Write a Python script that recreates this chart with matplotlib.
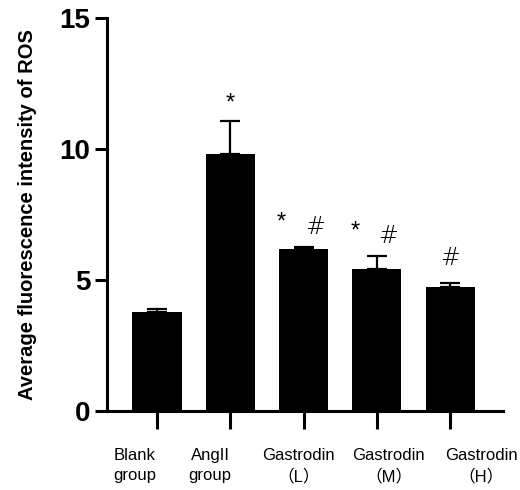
import numpy as np
import matplotlib.pyplot as plt

# valeurs
groups = ["Blank\ngroup", "AngII\ngroup", "Gastrodin\n（L）", "Gastrodin\n（M）", "Gastrodin\n（H）"]
means = [3.78, 9.81, 6.18, 5.42, 4.73]
errors = [0.12, 1.27, 0.08, 0.50, 0.16]
star = [False, True, True, True, False]
hash_mark = [False, False, True, True, True]

plt.rcParams['font.family'] = ['Liberation Sans', 'Noto Sans CJK SC', 'DejaVu Sans']

fig = plt.figure(figsize=(5.2, 4.9), dpi=100)
ax = fig.add_axes([0.206, 0.161, 0.761, 0.802])

x = np.arange(len(groups))
ax.bar(x, means, width=0.67, color="black", zorder=2)
ax.errorbar(x, means, yerr=[np.zeros(len(means)), errors], fmt="none",
            ecolor="black", elinewidth=1.6, capsize=7, capthick=1.6, zorder=1)

# marques de significativité
for i in range(len(groups)):
    top = means[i] + errors[i]
    if star[i] and hash_mark[i]:
        ax.text(i - 0.30, top + 0.95, "*", ha="center", va="center", fontsize=17)
        ax.text(i + 0.16, top + 0.75, "#", ha="center", va="center", fontsize=17,
                family=['DejaVu Sans'], fontweight="light")
    elif star[i]:
        ax.text(i, top + 0.65, "*", ha="center", va="center", fontsize=17)
    elif hash_mark[i]:
        ax.text(i, top + 0.95, "#", ha="center", va="center", fontsize=17,
                family=['DejaVu Sans'], fontweight="light")

ax.set_xlim(-0.68, 4.72)
ax.set_ylim(0, 15)
ax.set_yticks([0, 5, 10, 15])
ax.set_yticklabels(["0", "5", "10", "15"], fontsize=20, fontweight="bold")
ax.set_xticks(x)
ax.set_xticklabels([])

# étiquettes décalées comme sur l'original
shifts = [-22, -20, -5, 12, 31]
for i, (g, s) in enumerate(zip(groups, shifts)):
    ax.annotate(g, xy=(i, 0), xycoords=("data", "axes fraction"),
                xytext=(s, -37), textcoords="offset pixels",
                ha="center", va="top", fontsize=12, linespacing=1.4)

for side in ["top", "right"]:
    ax.spines[side].set_visible(False)
for side in ["left", "bottom"]:
    ax.spines[side].set_linewidth(2.2)
ax.tick_params(axis="y", length=9, width=2.2, pad=3)
ax.tick_params(axis="x", length=13, width=2.2)

ax.set_ylabel("Average fluorescence intensity of ROS", fontsize=14.5, fontweight="bold", labelpad=16)

fig.savefig("out.png", dpi=100)
